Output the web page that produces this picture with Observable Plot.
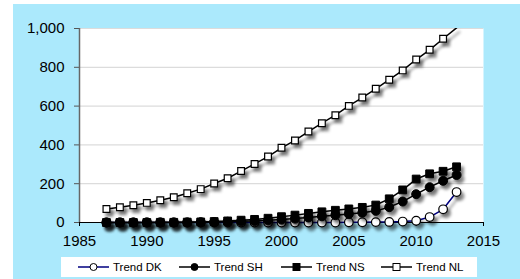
<!DOCTYPE html>
<html>
<head>
<meta charset="utf-8">
<script src="https://cdn.jsdelivr.net/npm/d3@7"></script>
<script src="https://cdn.jsdelivr.net/npm/@observablehq/plot@0.6"></script>
<style>
  html, body { margin: 0; padding: 0; background: #ffffff; }
  #wrap { position: absolute; left: 13px; top: 4px; width: 507px; height: 275px; background: #abe9fc; overflow: hidden; }
  #chart { position: absolute; left: 0; top: 0; }
  #legend { position: absolute; left: 48px; top: 253px; }
</style>
</head>
<body>
<div id="wrap">
  <div id="chart"></div>
  <svg id="legend" width="416" height="20"></svg>
</div>
<script>
const years = [1987,1988,1989,1990,1991,1992,1993,1994,1995,1996,1997,1998,1999,2000,2001,2002,2003,2004,2005,2006,2007,2008,2009,2010,2011,2012,2013];
const trendDK = [0,0,0,0,0,0,0,0,0,0,0,0,0,0,0,0,0,0,1,1,2,3,5,9,28,68,157];
const trendSH = [0,0,0,0,0,0,0,1,2,4,6,8,11,15,20,26,32,38,44,50,60,79,108,146,182,215,245];
const trendNS = [0,0,0,0,1,1,2,3,5,8,12,16,22,30,38,47,55,63,70,78,90,122,168,224,251,264,287];
const trendNL = [70,79,89,101,115,130,151,172,201,228,265,302,340,385,423,469,512,553,601,644,689,736,784,840,890,947,1003];
const seriesNames = ["Trend DK","Trend SH","Trend NS","Trend NL"];
const yTicks = [0,200,400,600,800,1000];
const xTicks = [1985,1990,1995,2000,2005,2010,2015];

const toRows = (vals) => years.map((y, i) => ({year: y, value: vals[i]}));
const dk = toRows(trendDK), sh = toRows(trendSH), ns = toRows(trendNS), nl = toRows(trendNL);
const inView = (d) => d.value <= 1000;

const chart = Plot.plot({
  width: 507,
  height: 250,
  marginLeft: 66,
  marginRight: 37,
  marginTop: 24,
  marginBottom: 32,
  style: {background: "transparent", fontFamily: "'Liberation Sans', Arial, sans-serif", fontSize: "15px", color: "#000"},
  x: {domain: [1985, 2015]},
  y: {domain: [0, 1000]},
  marks: [
    Plot.frame({fill: "white", stroke: null}),
    Plot.gridY(yTicks.slice(1), {stroke: "#dcdcdc", strokeOpacity: 1, strokeWidth: 1.2}),
    Plot.axisY(yTicks, {tickFormat: d3.format(","), tickSize: 5, tickPadding: 10, label: null, stroke: "#555"}),
    Plot.axisX(xTicks, {tickFormat: d => String(d), tickSize: 4, tickPadding: 9, label: null}),
    Plot.ruleX([1985], {stroke: "#666", strokeWidth: 1.5}),
    Plot.ruleY([0], {stroke: "#000", strokeWidth: 1.2}),
    Plot.line(dk, {x: "year", y: "value", stroke: "#000080", strokeWidth: 1.5}),
    Plot.dot(dk, {x: "year", y: "value", symbol: "circle", r: 4.3, fill: "white", stroke: "#000", strokeWidth: 1.2}),
    Plot.line(ns, {x: "year", y: "value", stroke: "#000", strokeWidth: 1.5}),
    Plot.dot(ns, {x: "year", y: "value", symbol: "square", r: 4.4, fill: "#000", stroke: "#000", strokeWidth: 1}),
    Plot.line(sh, {x: "year", y: "value", stroke: "#000", strokeWidth: 1.5}),
    Plot.dot(sh, {x: "year", y: "value", symbol: "circle", r: 4.5, fill: "#000", stroke: "#000", strokeWidth: 1}),
    Plot.line(nl, {x: "year", y: "value", stroke: "#000", strokeWidth: 1.5, clip: true}),
    Plot.dot(nl.filter(inView), {x: "year", y: "value", symbol: "square", r: 3.8, fill: "white", stroke: "#000", strokeWidth: 1.2})
  ]
});
document.getElementById("chart").appendChild(chart);

// drop shadow on data marks
const ns_svg = "http://www.w3.org/2000/svg";
const defs = document.createElementNS(ns_svg, "defs");
defs.innerHTML = '<filter id="shadow" x="-20%" y="-20%" width="140%" height="140%"><feDropShadow dx="3" dy="4" stdDeviation="1.6" flood-color="#000" flood-opacity="0.45"/></filter>';
chart.insertBefore(defs, chart.firstChild);
chart.querySelectorAll('g[aria-label="line"], g[aria-label="dot"]').forEach(g => g.setAttribute("filter", "url(#shadow)"));

// legend
const leg = d3.select("#legend");
leg.append("rect").attr("width", 416).attr("height", 20).attr("fill", "white");
const legendItems = [
  {name: seriesNames[0], x: 17, line: "#000080", sym: "circle", fill: "white"},
  {name: seriesNames[1], x: 118, line: "#000", sym: "circle", fill: "#000"},
  {name: seriesNames[2], x: 220, line: "#000", sym: "square", fill: "#000"},
  {name: seriesNames[3], x: 320, line: "#000", sym: "square", fill: "white"}
];
for (const it of legendItems) {
  const g = leg.append("g");
  g.append("line").attr("x1", it.x).attr("x2", it.x + 31).attr("y1", 10).attr("y2", 10).attr("stroke", it.line).attr("stroke-width", 1.5);
  if (it.sym === "circle") {
    g.append("circle").attr("cx", it.x + 15.5).attr("cy", 10).attr("r", 3.5).attr("fill", it.fill).attr("stroke", "#000").attr("stroke-width", 1);
  } else {
    g.append("rect").attr("x", it.x + 12).attr("y", 6.5).attr("width", 7).attr("height", 7).attr("fill", it.fill).attr("stroke", "#000").attr("stroke-width", 1);
  }
  g.append("text").attr("x", it.x + 35).attr("y", 10).attr("dy", "0.36em")
    .attr("font-family", "'Liberation Sans', Arial, sans-serif").attr("font-size", "11.5px").attr("fill", "#000").text(it.name);
}
</script>
</body>
</html>
